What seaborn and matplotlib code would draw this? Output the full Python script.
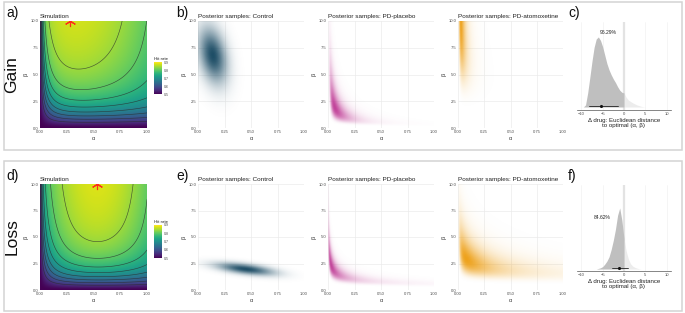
import numpy as np
import pandas as pd
import matplotlib
matplotlib.use("Agg")
import matplotlib.pyplot as plt
from matplotlib.patches import Rectangle
from matplotlib.colors import to_rgb
import seaborn as sns

sns.set_theme(style="white")
plt.rcParams['font.family'] = ['Liberation Sans', 'DejaVu Sans']

# ---- data ----
conditions = ["Gain", "Loss"]
letters = [["a)", "b)", "c)"], ["d)", "e)", "f)"]]
groups = ["Control", "PD-placebo", "PD-atomoxetine"]
group_colors = ["#1d4d66", "#c2449a", "#eea21c"]

# simulated hit rate surface: asymptote peaks at alpha_opt, learning speed saturates with alpha
alpha_opt = [0.28, 0.53]
asym_peak = [0.90, 0.90]
asym_curv = [0.155, 0.36]
speed_max = [0.60, 0.70]
speed_tau = [0.10, 0.10]
hill_n = 1.5
contour_levels = [0.56, 0.60, 0.64, 0.68, 0.72, 0.76, 0.80, 0.84]
cbar_ticks = [0.5, 0.6, 0.7, 0.8, 0.9]

# posterior samples summarised as 2d gaussians in (alpha, beta);
# control in linear units, PD groups in log units (banana shapes)
post_log = [False, True, True]
post_alpha_mu = [[0.14, 0.065, 0.026], [0.45, 0.03, 0.08]]
post_alpha_sd = [[0.07, 0.68, 0.60], [0.14, 1.10, 0.95]]
post_beta_mu = [[6.8, 1.9, 10.5], [1.95, 2.3, 2.9]]
post_beta_sd = [[1.35, 0.55, 0.38], [0.30, 0.50, 0.38]]
post_corr = [[-0.30, -0.75, -0.45], [-0.55, -0.86, -0.60]]

# delta drug: euclidean distance to optimal (relative density)
delta_x = [
    [-9.5, -9.0, -8.5, -8.0, -7.5, -7.0, -6.5, -6.0, -5.5, -5.0, -4.5, -4.0, -3.5, -3.0,
     -2.5, -2.0, -1.5, -1.0, -0.5, 0.0, 0.5, 1.0, 1.5, 2.0, 2.5, 3.0, 3.5, 4.0, 4.5, 5.0],
    [-6.5, -6.0, -5.5, -5.0, -4.5, -4.0, -3.5, -3.0, -2.5, -2.0, -1.5, -1.0, -0.5, 0.0,
     0.5, 1.0, 1.5, 2.0, 2.5, 3.0, 3.5, 4.0],
]
delta_dens = [
    [0.0, 0.03, 0.20, 0.42, 0.65, 0.85, 0.97, 1.0, 0.95, 0.86, 0.74, 0.62, 0.53, 0.46,
     0.40, 0.35, 0.29, 0.24, 0.21, 0.20, 0.14, 0.10, 0.08, 0.06, 0.045, 0.03, 0.02, 0.01, 0.003, 0.0],
    [0.0, 0.01, 0.02, 0.04, 0.08, 0.13, 0.20, 0.32, 0.47, 0.65, 0.88, 1.0, 0.80, 0.50,
     0.30, 0.17, 0.09, 0.05, 0.03, 0.015, 0.006, 0.0],
]
delta_median = [-5.4, -1.1]
delta_lo = [-8.3, -2.9]
delta_hi = [-1.5, 0.9]
delta_pct = ["96.29%", "84.62%"]

# ---- layout (pixels) ----
W, H = 685, 313
fig = plt.figure(figsize=(W / 100, H / 100), dpi=100)


def px_axes(x0, y0, x1, y1):
    return fig.add_axes([x0 / W, 1 - y1 / H, (x1 - x0) / W, (y1 - y0) / H])


row_y = [(21, 128), (184, 290)]
cbar_y = [(62, 94), (225, 258)]
dens_y = [(22, 110), (185, 271)]
dens_lim = [(-0.043, 1.213), (-0.032, 1.376)]
pct_pos = [(-3.6, 1.07), (-5.2, 0.85)]
post_x = [(198, 304), (328, 434), (458, 563)]
boxes = [(4, 2, 682, 150), (4, 161, 682, 311)]
letter_y = [13, 176]
label_y = [75, 237]

tick_col = "#4d4d4d"
a_grid = np.linspace(0.001, 1, 300)
b_grid = np.linspace(0.001, 10, 300)
A, B = np.meshgrid(a_grid, b_grid)
viridis = sns.color_palette("viridis", as_cmap=True)


def style_ab(ax):
    ax.set_xlim(0, 1)
    ax.set_ylim(0, 10)
    ax.set_xticks([0, 0.25, 0.5, 0.75, 1.0])
    ax.set_xticklabels(["0.00", "0.25", "0.50", "0.75", "1.00"])
    ax.set_yticks([0, 2.5, 5, 7.5, 10])
    ax.set_yticklabels(["0.0", "2.5", "5.0", "7.5", "10.0"])
    ax.tick_params(length=0, pad=1.2, labelsize=3.0, labelcolor=tick_col)
    ax.set_xlabel("α", fontsize=4.0, labelpad=1.5, color="#333333")
    ax.set_ylabel("β", fontsize=4.0, labelpad=1.0, color="#333333")
    for s in ax.spines.values():
        s.set_visible(False)


for r in range(2):
    x0, y0, x1, y1 = boxes[r]
    fig.patches.append(Rectangle((x0 / W, 1 - y1 / H), (x1 - x0) / W, (y1 - y0) / H,
                                 transform=fig.transFigure, fill=False,
                                 edgecolor="#d3d3d3", linewidth=1.1))
    fig.text(12 / W, 1 - label_y[r] / H, conditions[r], rotation=90, fontsize=12.5,
             ha="center", va="center", color="#111111")
    for lx, lt in zip([6, 176, 568], letters[r]):
        fig.text(lx / W, 1 - letter_y[r] / H, lt, fontsize=10, ha="left", va="center",
                 color="#111111")

    # --- simulation surface ---
    ax = px_axes(40, row_y[r][0], 147, row_y[r][1])
    asym = asym_peak[r] - asym_curv[r] * (A - alpha_opt[r]) ** 2
    speed = speed_max[r] * (1 - np.exp(-A / speed_tau[r]))
    xh = (B * speed) ** hill_n
    Z = 0.5 + (asym - 0.5) * xh / (1 + xh)
    im = ax.imshow(Z, extent=[0, 1, 0, 10], origin="lower", aspect="auto",
                   cmap=viridis, vmin=0.5, vmax=0.9, interpolation="bilinear")
    ax.contour(A, B, Z, levels=contour_levels, colors="#2b2b2b", linewidths=0.45, alpha=0.75)
    ax.plot(alpha_opt[r], 10, marker=(6, 2, 0), color="#ff2a1a", ms=8, mew=0.8, clip_on=True)
    style_ab(ax)
    ax.set_title("Simulation", loc="left", fontsize=4.6, pad=2.5, color="#222222")

    cax = px_axes(154, cbar_y[r][0], 162, cbar_y[r][1])
    cb = fig.colorbar(im, cax=cax, ticks=cbar_ticks)
    cb.outline.set_visible(False)
    cax.tick_params(length=0, pad=1.0, labelsize=2.6, labelcolor=tick_col)
    cax.set_title("Hit rate", loc="left", fontsize=3.2, pad=1.5, color="#222222")

    # --- posterior samples ---
    for g in range(3):
        ax = px_axes(post_x[g][0], row_y[r][0], post_x[g][1], row_y[r][1])
        ax.grid(True, color="#ebebeb", linewidth=0.5)
        ax.set_axisbelow(True)
        if post_log[g]:
            la = np.log(A / post_alpha_mu[r][g]) / post_alpha_sd[r][g]
            lb = np.log(B / post_beta_mu[r][g]) / post_beta_sd[r][g]
        else:
            la = (A - post_alpha_mu[r][g]) / post_alpha_sd[r][g]
            lb = (B - post_beta_mu[r][g]) / post_beta_sd[r][g]
        rho = post_corr[r][g]
        q = (la ** 2 - 2 * rho * la * lb + lb ** 2) / (1 - rho ** 2)
        d = np.exp(-q / 2)
        d = d / d.max()
        rgba = np.zeros(d.shape + (4,))
        rgba[..., :3] = to_rgb(group_colors[g])
        rgba[..., 3] = d ** 0.6
        ax.imshow(rgba, extent=[0, 1, 0, 10], origin="lower", aspect="auto",
                  interpolation="bilinear", zorder=2)
        style_ab(ax)
        ax.set_title("Posterior samples: " + groups[g], loc="left", fontsize=4.6,
                     pad=2.5, color="#222222")

    # --- delta distance ---
    ax = px_axes(577, dens_y[r][0], 671, dens_y[r][1])
    df = pd.DataFrame({"x": delta_x[r], "d": delta_dens[r]})
    left = df[df.x <= 0]
    right = df[df.x >= 0]
    ax.axvline(0, color="#e3e3e3", linewidth=1.6, zorder=0)
    for gx in [-10, -5, 5, 10]:
        ax.axvline(gx, color="#f2f2f2", linewidth=0.5, zorder=0)
    ax.fill_between(right.x, 0, right.d, color="#ececec", linewidth=0, zorder=1)
    ax.fill_between(left.x, 0, left.d, color="#bfbfbf", linewidth=0, zorder=2)
    ax.plot([delta_lo[r], delta_hi[r]], [0.012, 0.012], color="#222222", lw=0.6, zorder=3)
    sns.scatterplot(x=[delta_median[r]], y=[0.012], ax=ax, color="#111111", s=5,
                    linewidth=0, zorder=4)
    ax.text(pct_pos[r][0], pct_pos[r][1], delta_pct[r], fontsize=3.6, ha="center",
            va="center", color="#222222")
    ax.set_xlim(-11, 11)
    ax.set_ylim(*dens_lim[r])
    ax.set_xticks([-10, -5, 0, 5, 10])
    ax.set_yticks([])
    ax.tick_params(axis="x", length=0, pad=1.2, labelsize=3.0, labelcolor=tick_col)
    for s in ["top", "right", "left"]:
        ax.spines[s].set_visible(False)
    ax.spines["bottom"].set_color("#555555")
    ax.spines["bottom"].set_linewidth(0.5)
    ax.set_xlabel("Δ drug: Euclidean distance\nto optimal (α, β)", fontsize=4.4,
                  labelpad=1.5, color="#222222", linespacing=1.0)
    ax.set_ylabel("")

fig.savefig("out.png", dpi=100, facecolor="white")
